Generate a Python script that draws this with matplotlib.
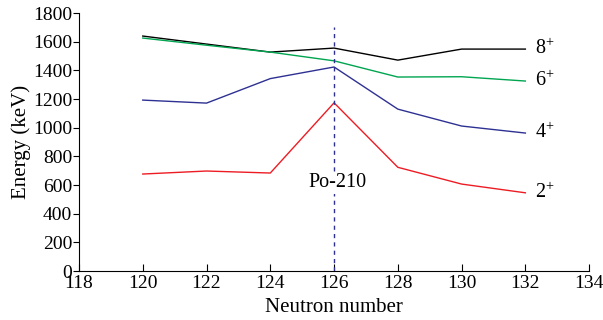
import matplotlib
matplotlib.use("Agg")
import matplotlib.pyplot as plt

# Data
neutrons = [120, 122, 124, 126, 128, 130, 132]
e_8plus = [1640, 1584, 1528, 1556, 1472, 1549, 1549]
e_6plus = [1626, 1576, 1528, 1467, 1354, 1356, 1326]
e_4plus = [1193, 1172, 1343, 1424, 1130, 1012, 963]
e_2plus = [677, 698, 684, 1174, 724, 607, 546]
state_labels = ["8$^{+}$", "6$^{+}$", "4$^{+}$", "2$^{+}$"]
x_ticks = [118, 120, 122, 124, 126, 128, 130, 132, 134]
y_ticks = [0, 200, 400, 600, 800, 1000, 1200, 1400, 1600, 1800]

plt.rcParams['font.family'] = ['Liberation Serif', 'DejaVu Serif']
plt.rcParams['mathtext.fontset'] = 'custom'
plt.rcParams['mathtext.rm'] = 'Liberation Serif'

fig = plt.figure(figsize=(6.03, 3.2), dpi=100)
ax = fig.add_axes([0.131, 0.153, 0.846, 0.806])

series = [e_8plus, e_6plus, e_4plus, e_2plus]
colors = ['black', '#00a550', '#2e3192', '#ed1c24']
for vals, col, lab in zip(series, colors, state_labels):
    ax.plot(neutrons, vals, color=col, lw=1.0)
    ax.text(neutrons[-1] + 0.3, vals[-1], lab, fontsize=14.5, va='center', ha='left')

# Po-210 marker
ax.plot([126, 126], [0, 1700], color='#2e3192', lw=1.0, ls=(0, (3, 3)))
ax.text(126.1, 615, "Po-210", fontsize=14.5, ha='center', va='center',
        bbox=dict(facecolor='white', edgecolor='none', pad=1))

ax.set_xlim(118, 134)
ax.set_ylim(0, 1800)
ax.set_xticks(x_ticks)
ax.set_yticks(y_ticks)
ax.spines['top'].set_visible(False)
ax.spines['right'].set_visible(False)
ax.tick_params(axis='x', direction='in', labelsize=14, length=5, pad=3)
ax.tick_params(axis='y', direction='out', labelsize=14, length=4, pad=1)
ax.set_xlabel("Neutron number", fontsize=15, labelpad=4)
ax.set_ylabel("Energy (keV)", fontsize=15, labelpad=1)

fig.savefig("out.png", dpi=100)
